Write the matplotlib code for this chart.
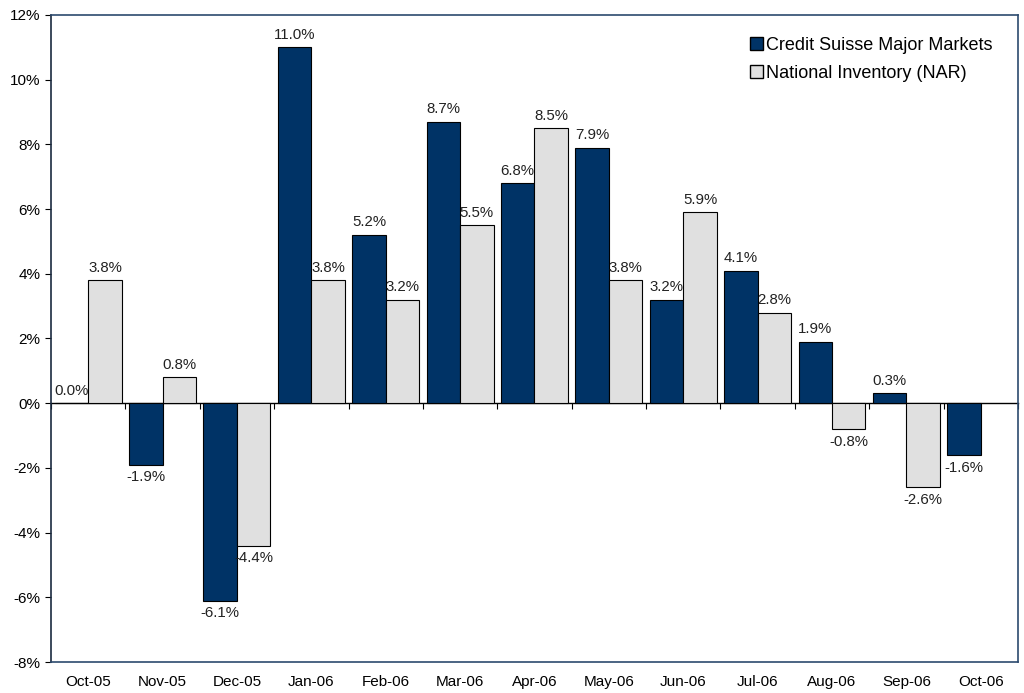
import numpy as np
import matplotlib.pyplot as plt
from matplotlib.patches import Patch

plt.rcParams["font.family"] = ["Liberation Sans", "DejaVu Sans"]

months = ["Oct-05", "Nov-05", "Dec-05", "Jan-06", "Feb-06", "Mar-06", "Apr-06",
          "May-06", "Jun-06", "Jul-06", "Aug-06", "Sep-06", "Oct-06"]
cs_major = [0.0, -1.9, -6.1, 11.0, 5.2, 8.7, 6.8, 7.9, 3.2, 4.1, 1.9, 0.3, -1.6]
nar = [3.8, 0.8, -4.4, 3.8, 3.2, 5.5, 8.5, 3.8, 5.9, 2.8, -0.8, -2.6, None]

DARK = "#003366"
LIGHT = "#E0E0E0"
FRAME = "#2C4A6E"

fig = plt.figure(figsize=(10.24, 6.93), dpi=100)
ax = fig.add_axes([0.0498, 0.0447, 0.9443, 0.9337])

x = np.arange(len(months))
w = 0.45


def add_labels(bars, vals):
    for b, v in zip(bars, vals):
        if v is None:
            continue
        cx = b.get_x() + b.get_width() / 2
        off = 4 if v >= 0 else -4
        ax.annotate(f"{v:.1f}%", (cx, v), xytext=(0, off), textcoords="offset points",
                    ha="center", va="bottom" if v >= 0 else "top",
                    fontsize=10.8, color="#222222")


cs_bars = ax.bar(x - w / 2, cs_major, w, color=DARK, edgecolor="black", linewidth=0.8)
nar_idx = [i for i, v in enumerate(nar) if v is not None]
nar_vals = [nar[i] for i in nar_idx]
nar_bars = ax.bar(x[nar_idx] + w / 2, nar_vals, w, color=LIGHT, edgecolor="black", linewidth=0.8)
add_labels(cs_bars, cs_major)
add_labels(nar_bars, nar_vals)

ax.set_xlim(-0.5, len(months) - 0.5)
ax.set_ylim(-8, 12)
ax.set_yticks(np.arange(-8, 13, 2))
ax.set_yticklabels([f"{t}%" for t in range(-8, 13, 2)])
ax.set_xticks(x)
ax.set_xticklabels(months)
ax.tick_params(axis="x", length=0, pad=9, labelsize=11)
ax.tick_params(axis="y", length=4, width=0.8, labelsize=11, direction="out")

for s in ax.spines.values():
    s.set_color(FRAME)
    s.set_linewidth(1.2)
ax.spines["left"].set_color("#1A2A3F")

# category axis crossing at zero, ticks between months
zero_axis = ax.secondary_xaxis(0.4)
zero_axis.set_xticks(np.arange(len(months) + 1) - 0.5)
zero_axis.set_xticklabels([])
zero_axis.tick_params(length=4, width=0.8, direction="out", color="black")
zero_axis.spines["bottom"].set_color("black")
zero_axis.spines["bottom"].set_linewidth(1.0)

handles = [Patch(facecolor=DARK, edgecolor="black", label="Credit Suisse Major Markets"),
           Patch(facecolor=LIGHT, edgecolor="black", label="National Inventory (NAR)")]
fig.legend(handles=handles, loc="upper left", bbox_to_anchor=(750 / 1024, 1 - 37 / 693),
           frameon=False, fontsize=13, handlelength=0.7, handleheight=0.7,
           handletextpad=0.2, borderpad=0, labelspacing=0.6, borderaxespad=0)

fig.savefig("out.png", dpi=100)
